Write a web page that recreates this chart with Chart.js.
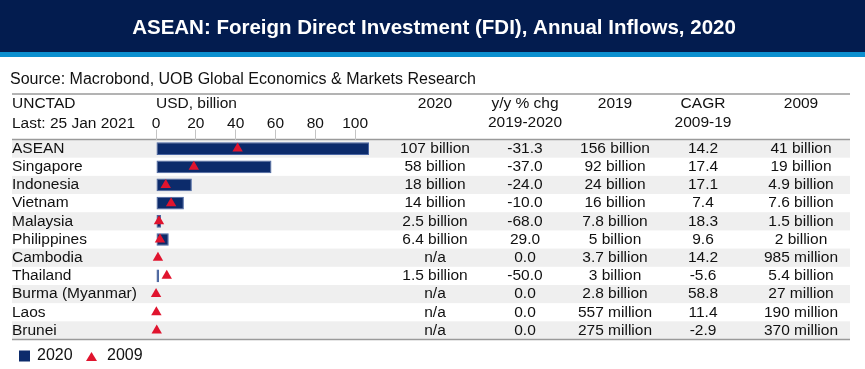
<!DOCTYPE html>
<html>
<head>
<meta charset="utf-8">
<script src="https://cdn.jsdelivr.net/npm/chart.js@4.4.1/dist/chart.umd.min.js"></script>
<style>
  html, body { margin: 0; padding: 0; background: #ffffff; }
  canvas { display: block; }
</style>
</head>
<body>
<canvas id="graficoFdi" width="865" height="369"></canvas>
<script>
// --- DADOS ---
const countries = ['ASEAN', 'Singapore', 'Indonesia', 'Vietnam', 'Malaysia', 'Philippines',
    'Cambodia', 'Thailand', 'Burma (Myanmar)', 'Laos', 'Brunei'];
const fdi2020 = [107, 58, 18, 14, 2.5, 6.4, null, 1.5, null, null, null];
const fdi2009 = [41, 19, 4.9, 7.6, 1.5, 2, 0.985, 5.4, 0.027, 0.19, 0.37];
const xTicks = [0, 20, 40, 60, 80, 100];

const col2020 = ['107 billion', '58 billion', '18 billion', '14 billion', '2.5 billion', '6.4 billion',
    'n/a', '1.5 billion', 'n/a', 'n/a', 'n/a'];
const colYoy = ['-31.3', '-37.0', '-24.0', '-10.0', '-68.0', '29.0', '0.0', '-50.0', '0.0', '0.0', '0.0'];
const col2019 = ['156 billion', '92 billion', '24 billion', '16 billion', '7.8 billion', '5 billion',
    '3.7 billion', '3 billion', '2.8 billion', '557 million', '275 million'];
const colCagr = ['14.2', '17.4', '17.1', '7.4', '18.3', '9.6', '14.2', '-5.6', '58.8', '11.4', '-2.9'];
const col2009 = ['41 billion', '19 billion', '4.9 billion', '7.6 billion', '1.5 billion', '2 billion',
    '985 million', '5.4 billion', '27 million', '190 million', '370 million'];

const FONT = 'Liberation Sans, Arial, sans-serif';
const NAVY = '#0c2b6b';
const RED = '#e0142e';

// colunas da tabela: posição x central, cabeçalho e valores
const tableColumns = [
    { x: 435, head: ['2020'], values: col2020 },
    { x: 525, head: ['y/y % chg', '2019-2020'], values: colYoy },
    { x: 615, head: ['2019'], values: col2019 },
    { x: 703, head: ['CAGR', '2009-19'], values: colCagr },
    { x: 801, head: ['2009'], values: col2009 }
];

const TABLE_LEFT = 12;
const TABLE_RIGHT = 850;

// --- PLUGIN: moldura, cabeçalho, tabela e legenda ---
const layoutPlugin = {
    id: 'layoutPlugin',
    beforeDraw(chart) {
        const ctx = chart.ctx;
        const yScale = chart.scales.y;
        const area = chart.chartArea;
        ctx.save();
        ctx.fillStyle = '#ffffff';
        ctx.fillRect(0, 0, chart.width, chart.height);

        // faixa do título
        ctx.fillStyle = '#031c4f';
        ctx.fillRect(0, 0, chart.width, 52);
        ctx.fillStyle = '#0b8fcf';
        ctx.fillRect(0, 52, chart.width, 5);
        ctx.fillStyle = '#ffffff';
        ctx.font = 'bold 20.5px ' + FONT;
        ctx.textAlign = 'center';
        ctx.textBaseline = 'middle';
        ctx.fillText('ASEAN: Foreign Direct Investment (FDI), Annual Inflows, 2020', 434, 28);

        // fonte
        ctx.fillStyle = '#111111';
        ctx.font = '16px ' + FONT;
        ctx.textAlign = 'left';
        ctx.fillText('Source: Macrobond, UOB Global Economics & Markets Research', 10, 80);

        // linhas zebradas
        const half = yScale.height / countries.length / 2;
        ctx.fillStyle = '#efefef';
        countries.forEach((c, i) => {
            if (i % 2 === 0) {
                const yc = yScale.getPixelForValue(i);
                ctx.fillRect(TABLE_LEFT, yc - half, TABLE_RIGHT - TABLE_LEFT, half * 2);
            }
        });

        // linhas horizontais
        ctx.strokeStyle = '#9a9a9a';
        ctx.lineWidth = 1.5;
        [94, area.top, area.bottom].forEach(y => {
            ctx.beginPath();
            ctx.moveTo(TABLE_LEFT, y);
            ctx.lineTo(TABLE_RIGHT, y);
            ctx.stroke();
        });

        // cabeçalho
        ctx.fillStyle = '#111111';
        ctx.font = '15.5px ' + FONT;
        ctx.textAlign = 'left';
        ctx.fillText('UNCTAD', TABLE_LEFT, 104);
        ctx.fillText('Last: 25 Jan 2021', TABLE_LEFT, 124);
        ctx.fillText('USD, billion', area.left, 104);
        ctx.textAlign = 'center';
        tableColumns.forEach(col => {
            col.head.forEach((t, k) => ctx.fillText(t, col.x, 104 + k * 19));
        });
        ctx.restore();
    },
    afterDraw(chart) {
        const ctx = chart.ctx;
        const yScale = chart.scales.y;
        ctx.save();
        ctx.fillStyle = '#111111';
        ctx.font = '15.5px ' + FONT;
        ctx.textAlign = 'center';
        ctx.textBaseline = 'middle';
        tableColumns.forEach(col => {
            col.values.forEach((v, i) => ctx.fillText(v, col.x, yScale.getPixelForValue(i)));
        });

        // legenda
        const ly = 356;
        ctx.fillStyle = NAVY;
        ctx.fillRect(19, ly - 5.5, 11, 11);
        ctx.fillStyle = RED;
        ctx.beginPath();
        ctx.moveTo(91.5, ly - 4);
        ctx.lineTo(97, ly + 5);
        ctx.lineTo(86, ly + 5);
        ctx.closePath();
        ctx.fill();
        ctx.fillStyle = '#111111';
        ctx.textAlign = 'left';
        ctx.font = '16px ' + FONT;
        ctx.fillText('2020', 37, ly);
        ctx.fillText('2009', 107, ly);
        ctx.restore();
    }
};

// --- GRÁFICO ---
const ctx = document.getElementById('graficoFdi').getContext('2d');
new Chart(ctx, {
    type: 'bar',
    data: {
        labels: countries,
        datasets: [
            {
                type: 'line',
                label: '2009',
                data: fdi2009,
                indexAxis: 'y',
                showLine: false,
                clip: false,
                pointStyle: 'triangle',
                pointRadius: 6,
                pointBackgroundColor: RED,
                pointBorderWidth: 0,
                order: 0
            },
            {
                label: '2020',
                data: fdi2020,
                backgroundColor: NAVY,
                borderColor: '#4a66a3',
                borderWidth: 1,
                borderSkipped: false,
                categoryPercentage: 1,
                barPercentage: 0.7,
                order: 1
            }
        ]
    },
    options: {
        indexAxis: 'y',
        responsive: false,
        animation: false,
        devicePixelRatio: 1,
        layout: { padding: { top: 110, left: 12, right: 490, bottom: 29.5 } },
        plugins: {
            legend: { display: false },
            title: { display: false },
            tooltip: { enabled: false }
        },
        scales: {
            x: {
                position: 'top',
                min: 0,
                max: 110,
                afterFit: scale => { scale.height = 29.5; },
                afterBuildTicks: scale => { scale.ticks = xTicks.map(v => ({ value: v })); },
                ticks: {
                    color: '#111111',
                    padding: -2,
                    font: { family: FONT, size: 15.5, lineHeight: 1 }
                },
                grid: { drawOnChartArea: false, drawTicks: true, tickLength: 10, color: '#c4c4c4' },
                border: { display: false }
            },
            y: {
                afterFit: scale => { scale.width = 144; },
                ticks: {
                    autoSkip: false,
                    crossAlign: 'far',
                    color: '#111111',
                    font: { family: FONT, size: 15.5 }
                },
                grid: { display: false },
                border: { display: false }
            }
        }
    },
    plugins: [layoutPlugin]
});
</script>
</body>
</html>
